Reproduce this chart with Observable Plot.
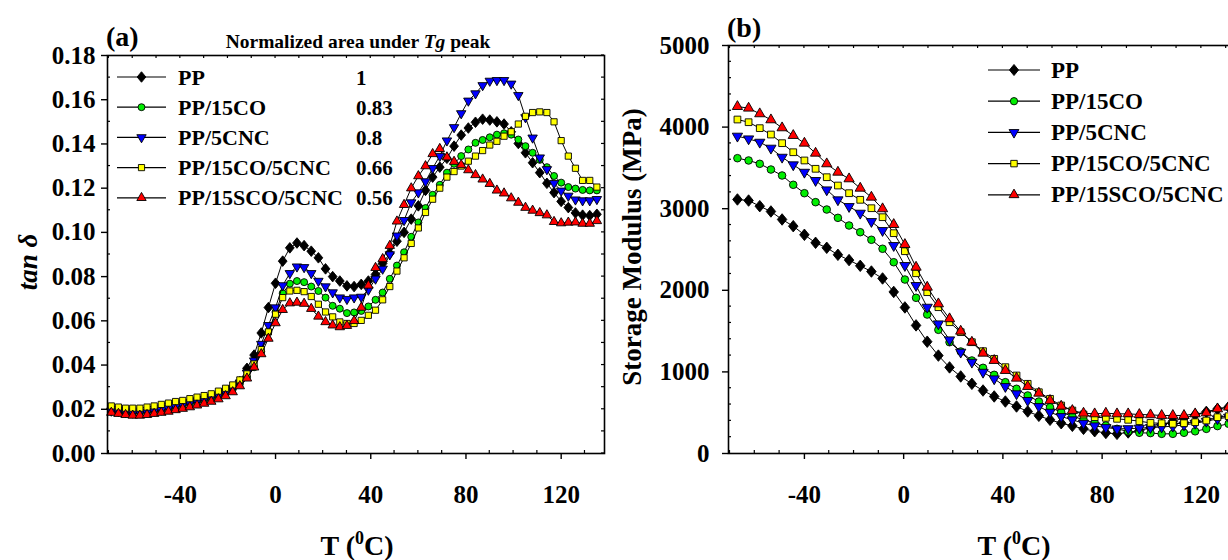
<!DOCTYPE html>
<html><head><meta charset="utf-8">
<script src="https://cdn.jsdelivr.net/npm/d3@7"></script>
<script src="https://cdn.jsdelivr.net/npm/@observablehq/plot@0.6"></script>
<style>
html,body{margin:0;padding:0;background:#fff;overflow:hidden;}
#wrap{position:relative;width:1228px;height:560px;overflow:hidden;background:#fff;}
.panel{position:absolute;top:0;}
</style></head><body><div id="wrap"></div>
<script>
// ---------- data ----------
const seriesNames = ["PP","PP/15CO","PP/5CNC","PP/15CO/5CNC","PP/15SCO/5CNC"];
const seriesColors = ["#000000","#00ee00","#0000ff","#ffff00","#ff0000"];
const areaValues = ["1","0.83","0.8","0.66","0.56"];

const tempA = [-69,-66,-63,-60,-57,-54,-51,-48,-45,-42,-39,-36,-33,-30,-27,-24,-21,-18,-15,-12,
  -9,-6,-3,0,3,6,9,12,15,18,21,24,27,30,33,36,39,42,45,48,51,54,57,60,63,66,69,72,75,78,
  81,84,87,90,93,96,99,102,105,108,111,114,117,120,123,126,129,132,135];
const tanPP = [0.0198,0.0195,0.0190,0.0188,0.0188,0.0190,0.0195,0.0200,0.0208,0.0215,
  0.0222,0.0230,0.0238,0.0245,0.0255,0.0265,0.0280,0.0298,0.0325,0.0385,
  0.0445,0.0545,0.0660,0.0770,0.0870,0.0930,0.0952,0.0940,0.0915,0.0885,
  0.0835,0.0800,0.0780,0.0758,0.0755,0.0765,0.0780,0.0810,0.0860,0.0905,
  0.0960,0.1000,0.1060,0.1120,0.1190,0.1250,0.1295,0.1335,0.1390,0.1440,
  0.1472,0.1498,0.1512,0.1508,0.1500,0.1490,0.1455,0.1402,0.1360,0.1315,
  0.1270,0.1222,0.1180,0.1140,0.1112,0.1088,0.1078,0.1076,0.1082];
const tanCO = [0.0195,0.0190,0.0185,0.0183,0.0185,0.0188,0.0192,0.0198,0.0205,0.0210,
  0.0218,0.0225,0.0233,0.0240,0.0250,0.0260,0.0275,0.0290,0.0315,0.0345,
  0.0390,0.0460,0.0550,0.0640,0.0725,0.0768,0.0780,0.0775,0.0755,0.0735,
  0.0705,0.0668,0.0655,0.0635,0.0638,0.0645,0.0665,0.0695,0.0728,0.0790,
  0.0850,0.0910,0.0980,0.1045,0.1110,0.1170,0.1215,0.1270,0.1310,0.1345,
  0.1375,0.1405,0.1418,0.1430,0.1442,0.1448,0.1442,0.1420,0.1390,0.1360,
  0.1328,0.1295,0.1255,0.1225,0.1205,0.1198,0.1192,0.1190,0.1190];
const tanCNC = [0.0193,0.0190,0.0186,0.0184,0.0185,0.0188,0.0193,0.0198,0.0205,0.0212,
  0.0220,0.0228,0.0236,0.0244,0.0254,0.0264,0.0278,0.0295,0.0320,0.0365,
  0.0420,0.0495,0.0580,0.0660,0.0760,0.0815,0.0845,0.0842,0.0815,0.0780,
  0.0755,0.0728,0.0705,0.0698,0.0705,0.0708,0.0740,0.0790,0.0835,0.0900,
  0.0985,0.1055,0.1135,0.1180,0.1230,0.1290,0.1345,0.1415,0.1475,0.1538,
  0.1595,0.1628,0.1665,0.1685,0.1688,0.1688,0.1672,0.1620,0.1520,0.1428,
  0.1338,0.1285,0.1222,0.1188,0.1165,0.1148,0.1144,0.1144,0.1150];
const tanCOCNC = [0.0215,0.0210,0.0205,0.0205,0.0205,0.0210,0.0215,0.0222,0.0228,0.0235,
  0.0240,0.0248,0.0255,0.0262,0.0270,0.0282,0.0295,0.0310,0.0333,0.0360,
  0.0405,0.0470,0.0550,0.0630,0.0705,0.0735,0.0738,0.0732,0.0710,0.0675,
  0.0640,0.0618,0.0595,0.0588,0.0588,0.0602,0.0625,0.0648,0.0695,0.0755,
  0.0825,0.0885,0.0950,0.1020,0.1090,0.1150,0.1200,0.1250,0.1275,0.1300,
  0.1322,0.1345,0.1370,0.1395,0.1412,0.1435,0.1455,0.1490,0.1525,0.1542,
  0.1545,0.1542,0.1500,0.1415,0.1345,0.1290,0.1235,0.1235,0.1205];
const tanSCOCNC = [0.0185,0.0180,0.0175,0.0172,0.0172,0.0175,0.0180,0.0185,0.0190,0.0197,
  0.0203,0.0210,0.0218,0.0226,0.0235,0.0246,0.0260,0.0278,0.0305,0.0340,
  0.0390,0.0450,0.0520,0.0590,0.0650,0.0680,0.0683,0.0678,0.0655,0.0620,
  0.0595,0.0580,0.0572,0.0578,0.0600,0.0660,0.0760,0.0840,0.0880,0.0940,
  0.1050,0.1125,0.1200,0.1255,0.1300,0.1355,0.1378,0.1340,0.1320,0.1305,
  0.1282,0.1260,0.1240,0.1220,0.1190,0.1177,0.1155,0.1135,0.1112,0.1099,
  0.1088,0.1078,0.1048,0.1042,0.1045,0.1046,0.1040,0.1040,0.1052];

const tempB = [-67,-62.5,-58,-53.5,-49,-44.5,-40,-35.5,-31,-26.5,-22,-17.5,-13,-8.5,-4,0.5,5,9.5,14,18.5,
  23,27.5,32,36.5,41,45.5,50,54.5,59,63.5,68,72.5,77,81.5,86,90.5,95,99.5,104,108.5,113,117.5,122,126.5,131,135.5];
const modPP = [3113,3100,3031,2966,2868,2786,2680,2582,2521,2435,2370,2300,2230,2145,1980,1790,1570,1370,1200,1055,
  944,854,772,699,637,576,515,462,413,371,339,302,273,252,241,258,280,315,355,395,435,475,510,545,570,590];
const modCO = [3619,3591,3550,3480,3407,3293,3190,3080,2990,2888,2794,2712,2619,2509,2344,2132,1908,1703,1516,1364,
  1250,1140,1050,964,874,793,711,637,567,506,457,413,376,343,302,270,254,250,241,241,254,272,302,336,364,385];
const modCNC = [3889,3856,3815,3742,3631,3538,3447,3346,3231,3109,3027,2945,2843,2733,2549,2304,2059,1793,1589,1393,
  1242,1119,996,915,821,732,650,576,506,453,413,371,339,318,302,305,310,318,325,335,350,370,395,425,445,465];
const modCOCNC = [4093,4060,3987,3909,3803,3692,3591,3489,3386,3284,3190,3109,3006,2896,2700,2479,2209,1977,1793,1609,
  1487,1364,1254,1160,1058,956,854,751,670,588,527,478,445,437,425,413,396,375,371,364,371,384,404,445,457,470];
const modSCOCNC = [4252,4232,4163,4089,3991,3897,3803,3680,3550,3447,3366,3251,3141,2999,2806,2561,2283,2038,1834,1651,
  1499,1364,1229,1140,1017,923,821,739,650,580,527,494,486,494,486,486,478,474,466,466,466,486,498,547,568,580];

const xMajor = [-40,0,40,80,120];
const xMinor = [-70,-60,-50,-30,-20,-10,10,20,30,50,60,70,90,100,110,130];
const yMajorA = [0,0.02,0.04,0.06,0.08,0.10,0.12,0.14,0.16,0.18];
const yMinorA = [0.01,0.03,0.05,0.07,0.09,0.11,0.13,0.15,0.17];
const yMajorB = [0,1000,2000,3000,4000,5000];
const yMinorB = [200,400,600,800,1200,1400,1600,1800,2200,2400,2600,2800,3200,3400,3600,3800,4200,4400,4600,4800];

// ---------- symbols ----------
const symDiamond = {draw(ctx, size){ const r = Math.sqrt(size/2)*1.05; ctx.moveTo(0,-r*1.15); ctx.lineTo(r*0.95,0); ctx.lineTo(0,r*1.15); ctx.lineTo(-r*0.95,0); ctx.closePath(); }};
const symTriDown = {draw(ctx, size){ const s = Math.sqrt(4*size/Math.sqrt(3)); const h = s*Math.sqrt(3)/2; ctx.moveTo(-s/2,-h/3); ctx.lineTo(s/2,-h/3); ctx.lineTo(0,2*h/3); ctx.closePath(); }};
const symTriUp = {draw(ctx, size){ const s = Math.sqrt(4*size/Math.sqrt(3)); const h = s*Math.sqrt(3)/2; ctx.moveTo(-s/2,h/3); ctx.lineTo(s/2,h/3); ctx.lineTo(0,-2*h/3); ctx.closePath(); }};
const plotSymbols = [symDiamond, "circle", symTriDown, "square", symTriUp];
const d3Symbols = [symDiamond, d3.symbolCircle, symTriDown, d3.symbolSquare, symTriUp];

const FONT = "'Liberation Serif','Times New Roman',serif";
const fmtX = d => d < 0 ? "-" + Math.abs(d) : String(d);

function rowsFor(temps, arrays){ return arrays.map((vals,i)=>temps.map((t,j)=>({T:t, v:vals[j], s:i}))); }

function seriesMarks(rowsList, r){
  const m = [];
  rowsList.forEach((rows,i)=>{
    m.push(Plot.line(rows,{x:"T",y:"v",stroke:"black",strokeWidth:1}));
    m.push(Plot.dot(rows,{x:"T",y:"v",symbol:plotSymbols[i],r:r,fill:seriesColors[i],stroke:"black",strokeWidth:0.9}));
  });
  return m;
}

function decorate(chart, yMinor, yMajor){
  const x = chart.scale("x"), y = chart.scale("y");
  const [x0,x1] = x.range, [y0,y1] = y.range;
  const g = d3.select(chart).append("g").attr("stroke","black").attr("stroke-width",1.2);
  const ln = (a,b,c,d)=>g.append("line").attr("x1",a).attr("y1",b).attr("x2",c).attr("y2",d);
  for (const v of xMinor){ const px = x.apply(v); if(px<x0||px>x1) continue; ln(px,y0,px,y0-3); ln(px,y1,px,y1+3); }
  for (const v of xMajor){ const px = x.apply(v); ln(px,y1,px,y1+3); }
  for (const v of yMinor){ const py = y.apply(v); ln(x0,py,x0+3,py); ln(x1,py,x1-3,py); }
  for (const v of yMajor){ const py = y.apply(v); ln(x1,py,x1-3,py); }
}

function addText(svg, x, y, txt, size, anchor="start"){
  return d3.select(svg).append("text").attr("x",x).attr("y",y).attr("font-family",FONT)
    .attr("font-size",size).attr("font-weight","bold").attr("fill","black")
    .attr("text-anchor",anchor).text(txt);
}

function addTempLabel(svg, cx, y){
  const t = d3.select(svg).append("text").attr("x",cx).attr("y",y).attr("text-anchor","middle")
    .attr("font-family",FONT).attr("font-size",28).attr("font-weight","bold").attr("fill","black");
  t.append("tspan").text("T (");
  t.append("tspan").attr("font-size",18).attr("dy",-11).text("0");
  t.append("tspan").attr("dy",11).text("C)");
}

function addLegend(svg, xLine0, xLine1, xText, yStart, dy, size, fontSize){
  const g = d3.select(svg).append("g");
  seriesNames.forEach((name,i)=>{
    const yy = yStart + i*dy;
    g.append("line").attr("x1",xLine0).attr("x2",xLine1).attr("y1",yy).attr("y2",yy).attr("stroke","black").attr("stroke-width",1.2);
    g.append("path").attr("d",d3.symbol().type(d3Symbols[i]).size(size)()).attr("transform",`translate(${(xLine0+xLine1)/2},${yy})`)
      .attr("fill",seriesColors[i]).attr("stroke","black").attr("stroke-width",0.9);
    addText(svg, xText, yy+7.5, name, fontSize);
  });
}

const wrap = document.getElementById("wrap");
const TICKFONT = "25px";

// ---------- panel (a) ----------
const chartA = Plot.plot({
  width:610, height:560, marginLeft:107, marginRight:6, marginTop:55, marginBottom:107,
  x:{domain:[-70.6,138.2]}, y:{domain:[0,0.18]},
  style:{fontFamily:FONT, fontSize:TICKFONT, fontWeight:"bold", color:"black", background:"transparent"},
  marks:[
    ...seriesMarks(rowsFor(tempA,[tanPP,tanCO,tanCNC,tanCOCNC,tanSCOCNC]), 3.5),
    Plot.frame({stroke:"black", strokeWidth:1.6}),
    Plot.axisX(xMajor,{tickSize:6, tickPadding:26, label:null, tickFormat:fmtX, strokeWidth:1.4}),
    Plot.axisY(yMajorA,{tickSize:6, tickPadding:6, label:null, tickFormat:d3.format(".2f"), strokeWidth:1.4})
  ]
});
chartA.classList.add("panel"); chartA.style.left = "0px";
wrap.appendChild(chartA);
decorate(chartA, yMinorA, yMajorA);
addText(chartA, 106, 46, "(a)", 28);
{
  const t = d3.select(chartA).append("text").attr("x",358).attr("y",48).attr("text-anchor","middle")
    .attr("font-family",FONT).attr("font-size",19.5).attr("font-weight","bold").attr("fill","black");
  t.append("tspan").text("Normalized area under ");
  t.append("tspan").attr("font-style","italic").text("Tg");
  t.append("tspan").text(" peak");
}
addLegend(chartA, 117, 166, 178, 77, 30.2, 38, 22);
areaValues.forEach((v,i)=>addText(chartA, 356, 77 + i*30.2 + 7.5, v, 21));
d3.select(chartA).append("text").attr("transform","translate(37,262) rotate(-90)").attr("text-anchor","middle")
  .attr("font-family",FONT).attr("font-size",27).attr("font-weight","bold").attr("font-style","italic").attr("fill","black")
  .text("tan δ");
addTempLabel(chartA, 357, 555);

// ---------- panel (b) ----------
const chartB = Plot.plot({
  width:644, height:560, marginLeft:118, marginRight:6, marginTop:45, marginBottom:107,
  x:{domain:[-70.6,139]}, y:{domain:[0,5000]},
  style:{fontFamily:FONT, fontSize:TICKFONT, fontWeight:"bold", color:"black", background:"transparent", overflow:"visible"},
  marks:[
    ...seriesMarks(rowsFor(tempB,[modPP,modCO,modCNC,modCOCNC,modSCOCNC]), 3.8),
    Plot.frame({stroke:"black", strokeWidth:1.6}),
    Plot.axisX(xMajor,{tickSize:6, tickPadding:26, label:null, tickFormat:fmtX, strokeWidth:1.4}),
    Plot.axisY(yMajorB,{tickSize:6, tickPadding:13, label:null, tickFormat:d3.format("d"), strokeWidth:1.4})
  ]
});
chartB.classList.add("panel"); chartB.style.left = "610px";
wrap.appendChild(chartB);
decorate(chartB, yMinorB, yMajorB);
addText(chartB, 117, 37, "(b)", 28);
addLegend(chartB, 378, 430, 441, 70, 31.2, 42, 23);
d3.select(chartB).append("text").attr("transform","translate(31,247) rotate(-90)").attr("text-anchor","middle")
  .attr("font-family",FONT).attr("font-size",27).attr("font-weight","bold").attr("fill","black").text("Storage Modulus (MPa)");
addTempLabel(chartB, 404, 555);
</script></body></html>
